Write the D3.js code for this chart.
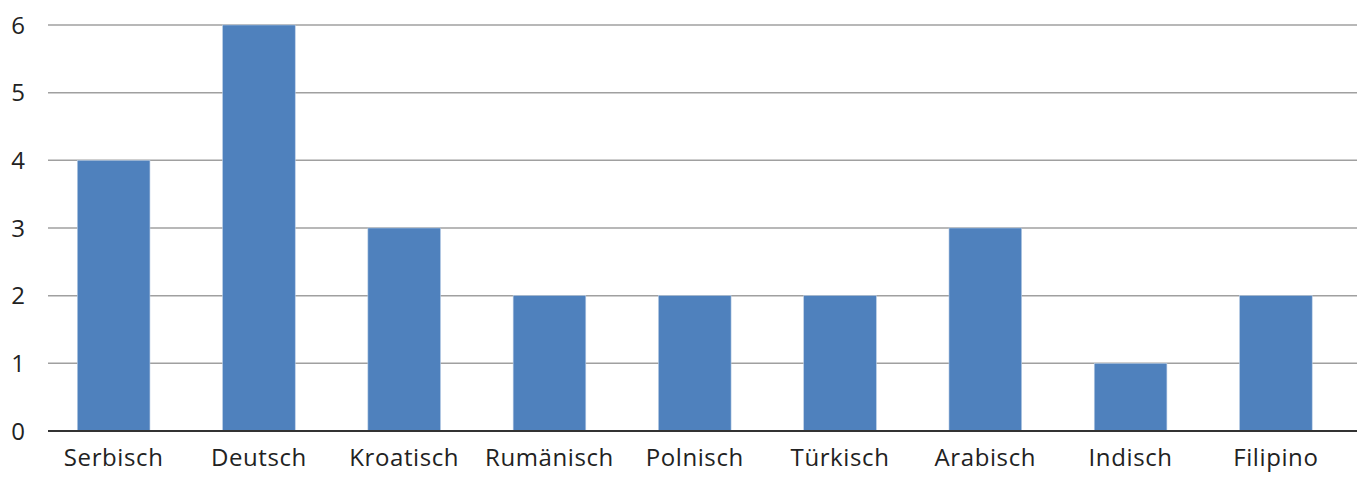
<!DOCTYPE html>
<html>
<head>
<meta charset="utf-8">
<script src="https://cdn.jsdelivr.net/npm/d3@7"></script>
<style>
  body { margin: 0; background: #fff; }
  text { font-family: "Open Sans", "Noto Sans", sans-serif; fill: #222; }
</style>
</head>
<body>
<svg id="chart" width="1359" height="484"></svg>
<script>
const languages = ["Serbisch", "Deutsch", "Kroatisch", "Rumänisch", "Polnisch", "Türkisch", "Arabisch", "Indisch", "Filipino"];
const counts = [4, 6, 3, 2, 2, 2, 3, 1, 2];
const yTicks = [0, 1, 2, 3, 4, 5, 6];

const svg = d3.select("#chart");
const gridLeft = 48, gridRight = 1357;

const x = d3.scaleBand().domain(languages).range([41, 1348.5]).paddingInner(0.5).paddingOuter(0.25);
const y = d3.scaleLinear().domain([0, 6]).range([431, 25]);

// Gridlines
svg.append("g")
  .selectAll("line")
  .data(yTicks.filter((d) => d > 0))
  .join("line")
  .attr("x1", gridLeft)
  .attr("x2", gridRight)
  .attr("y1", (d) => y(d))
  .attr("y2", (d) => y(d))
  .attr("stroke", "#a0a0a0")
  .attr("stroke-width", 1.5);

// Bars
svg.append("g")
  .selectAll("rect")
  .data(languages)
  .join("rect")
  .attr("x", (d) => x(d))
  .attr("width", x.bandwidth())
  .attr("y", (d, i) => y(counts[i]))
  .attr("height", (d, i) => y(0) - y(counts[i]))
  .attr("fill", "#4f81bd")
  .attr("stroke", "#b9cde5")
  .attr("stroke-width", 0.6);

// Zero line
svg.append("line")
  .attr("x1", gridLeft)
  .attr("x2", gridRight)
  .attr("y1", y(0))
  .attr("y2", y(0))
  .attr("stroke", "#333")
  .attr("stroke-width", 2.2);

// Y tick labels
svg.append("g")
  .selectAll("text")
  .data(yTicks)
  .join("text")
  .attr("x", 18)
  .attr("y", (d) => y(d))
  .attr("dy", "0.36em")
  .attr("text-anchor", "middle")
  .attr("font-size", 24)
  .text((d) => d);

// X labels
svg.append("g")
  .selectAll("text")
  .data(languages)
  .join("text")
  .attr("x", (d) => x(d) + x.bandwidth() / 2)
  .attr("y", 466)
  .attr("text-anchor", "middle")
  .attr("font-size", 24)
  .attr("letter-spacing", 0.6)
  .text((d) => d);
</script>
</body>
</html>
